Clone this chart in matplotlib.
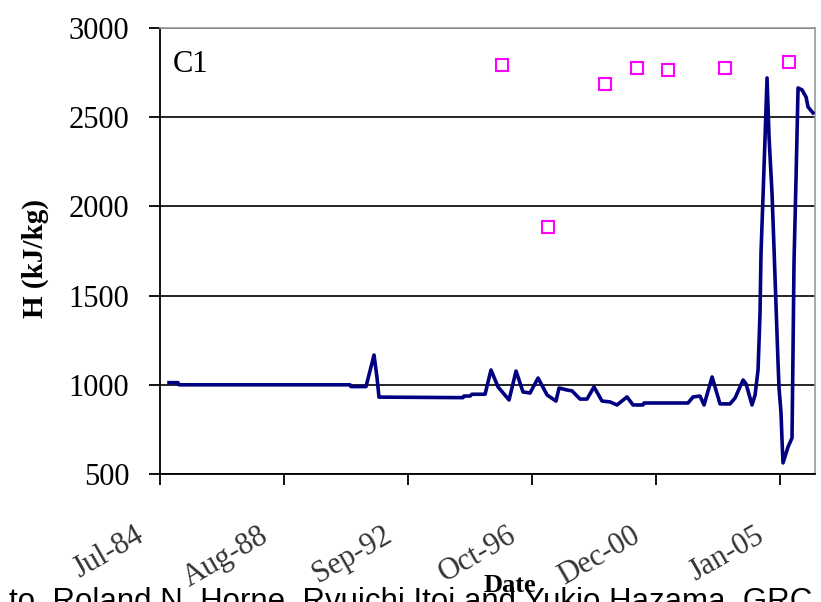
import pandas as pd
import matplotlib
matplotlib.use("Agg")
import matplotlib.pyplot as plt
from matplotlib.transforms import ScaledTranslation

# Enthalpy of well C1 (line) and measured points (squares)
line_dates = [
    "1984-10-18", "1985-02-04", "1985-02-16", "1990-10-16", "1990-10-28", "1991-04-28",
    "1991-08-03", "1991-09-08", "1991-10-02", "1994-07-14", "1994-07-26", "1994-10-07",
    "1994-10-31", "1995-04-07", "1995-06-18", "1995-09-11", "1996-01-22", "1996-04-16",
    "1996-07-09", "1996-10-02", "1997-01-07", "1997-04-26", "1997-08-12", "1997-09-18",
    "1997-12-23", "1998-02-22", "1998-05-30", "1998-08-22", "1998-11-15", "1999-02-20",
    "1999-05-28", "1999-08-20", "1999-12-19", "2000-03-01", "2000-06-30", "2000-07-12",
    "2001-12-26", "2002-02-25", "2002-05-20", "2002-07-08", "2002-10-13", "2003-01-17",
    "2003-05-18", "2003-07-18", "2003-10-23", "2003-11-28", "2004-02-08", "2004-03-16",
    "2004-04-21", "2004-05-15", "2004-05-27", "2004-06-20", "2004-07-15", "2004-08-08",
    "2004-09-01", "2004-10-07", "2004-11-01", "2004-11-25", "2004-12-19", "2004-12-31",
    "2005-01-24", "2005-02-05", "2005-02-17", "2005-04-19", "2005-06-06", "2005-06-18",
    "2005-06-30", "2005-07-25", "2005-08-18", "2005-10-05", "2005-11-23", "2005-12-17",
    "2006-02-15",
]
line_h = [
    1012, 1012, 1000, 1000, 990, 990,
    1167, 1040, 931, 928, 937, 937,
    947, 947, 1083, 988, 915, 1077,
    960, 954, 1038, 943, 909, 982,
    971, 966, 920, 920, 988, 909,
    904, 887, 932, 887, 887, 898,
    898, 932, 937, 887, 1044, 893,
    893, 926, 1027, 1005, 887, 943,
    1083, 1400, 1739, 2053, 2389, 2720,
    2389, 2075, 1756, 1436, 1122, 982,
    842, 691, 562, 652, 702, 1184,
    1683, 2165, 2664, 2653, 2613, 2557,
    2524,
]

point_dates = ["1995-10-29", "1997-05-08", "1999-03-28", "2000-04-18",
               "2001-04-28", "2003-03-19", "2005-05-01"]
point_h = [2793, 1885, 2686, 2776, 2765, 2776, 2809]

tick_labels = ["Jul-84", "Aug-88", "Sep-92", "Oct-96", "Dec-00", "Jan-05"]

serif = ["Liberation Serif", "DejaVu Serif"]

fig = plt.figure(figsize=(8.21, 6.02), dpi=100)
ax = fig.add_axes([160 / 821, 1 - 474 / 602, 655 / 821, 446 / 602])

ax.plot(pd.to_datetime(line_dates), line_h, color="#000080", linewidth=2.6, zorder=3)
ax.plot(pd.to_datetime(point_dates), point_h, linestyle="none", marker="s",
        markersize=8.5, markerfacecolor="none", markeredgecolor="#FF00FF",
        markeredgewidth=1.5, zorder=4)

start = pd.Timestamp("1984-07-01")
ticks = pd.date_range(start, periods=6, freq="1500D")
ax.set_xlim(start, pd.Timestamp("2006-03-11"))
ax.set_xticks(ticks)
ax.set_xticklabels(tick_labels, rotation=30, ha="right", family=serif,
                   fontsize=22, color="#333333")
ax.set_ylim(500, 3000)
ax.set_yticks(range(500, 3001, 500))
ax.set_yticklabels([str(v) for v in range(500, 3001, 500)], family=serif, fontsize=22)

ax.tick_params(axis="x", length=8, width=1.3, pad=26)
ax.tick_params(axis="y", length=8, width=1.3, pad=14)
for lab in ax.get_xticklabels():
    lab.set_transform(lab.get_transform() + ScaledTranslation(-0.11, 0, fig.dpi_scale_trans))

ax.grid(axis="y", color="black", linewidth=1.2)
ax.set_axisbelow(True)
for side in ["top", "right"]:
    ax.spines[side].set_color("#999999")
    ax.spines[side].set_linewidth(1.2)
for side in ["left", "bottom"]:
    ax.spines[side].set_color("black")
    ax.spines[side].set_linewidth(1.3)

ax.text(0.02, 0.901, "C1", transform=ax.transAxes, family=serif, fontsize=22,
        va="baseline")
fig.text(35 / 821, 1 - 258 / 602, "H (kJ/kg)", rotation=90, family=serif,
         fontsize=21, fontweight="bold", ha="center", va="center")
fig.text(510 / 821, 1 - 586 / 602, "Date", family=serif, fontsize=19,
         fontweight="bold", ha="center", va="center")
fig.text(812 / 821, -7.6 / 602, "to, Roland N. Horne, Ryuichi Itoi and Yukio Hazama, GRC",
         family=["Liberation Sans", "DejaVu Sans"], fontsize=22.5, ha="right",
         va="baseline")

fig.savefig("out.png", dpi=100)
